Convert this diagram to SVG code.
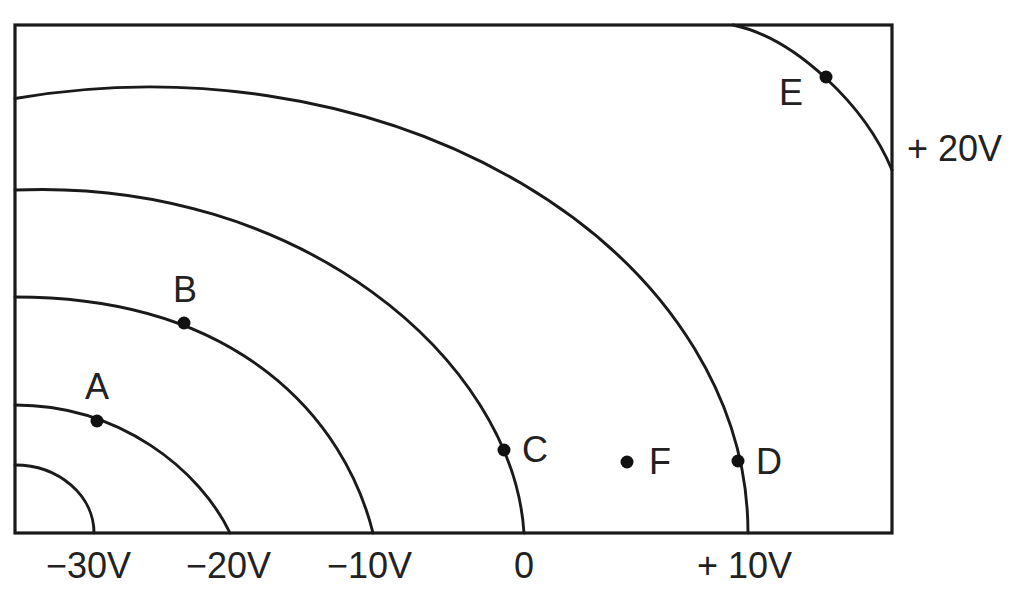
<svg xmlns="http://www.w3.org/2000/svg" width="1018" height="596" viewBox="0 0 1018 596">
  <style>
    .line { fill: none; stroke: #1a1a1a; stroke-width: 2.9; stroke-linecap: round; }
    .frame { fill: none; stroke: #1a1a1a; stroke-width: 3.2; }
    .dot { fill: #111; }
    .lbl { font-family: "Liberation Sans", Arial, sans-serif; font-size: 36px; fill: #222; }
  </style>
  <rect width="1018" height="596" fill="#ffffff"/>
  <g id="frame">
    <rect class="frame" x="15" y="25" width="877" height="508"/>
  </g>
  <g id="equipotentials">
    <path id="v-30" class="line" d="M15,465 A79,68 0 0 1 94,533"/>
    <path id="v-20" class="line" d="M15,405 C120,405 200,470 230,533"/>
    <path id="v-10" class="line" d="M15,297 C240,297 345,420 373,533"/>
    <path id="v0" class="line" d="M15,190 C300,178 513,360 524,533"/>
    <path id="v10" class="line" d="M15,98.5 A598,446 0 0 1 748,533"/>
    <path id="v20" class="line" d="M733,25 C795,38 865,105 892,170"/>
  </g>
  <g id="point-A"><circle class="dot" cx="97" cy="421" r="6.5"/><text class="lbl" x="85" y="399">A</text></g>
  <g id="point-B"><circle class="dot" cx="184" cy="323" r="6.5"/><text class="lbl" x="173" y="302">B</text></g>
  <g id="point-C"><circle class="dot" cx="504" cy="450" r="6.5"/><text class="lbl" x="522" y="462">C</text></g>
  <g id="point-F"><circle class="dot" cx="627" cy="462" r="6.5"/><text class="lbl" x="649" y="474">F</text></g>
  <g id="point-D"><circle class="dot" cx="738" cy="461" r="6.5"/><text class="lbl" x="756" y="474">D</text></g>
  <g id="point-E"><circle class="dot" cx="826" cy="77" r="6.5"/><text class="lbl" x="779" y="105">E</text></g>
  <g id="labels">
    <text class="lbl" x="46" y="578">−30V</text>
    <text class="lbl" x="186" y="578">−20V</text>
    <text class="lbl" x="327" y="578">−10V</text>
    <text class="lbl" x="524" y="578" text-anchor="middle">0</text>
    <text class="lbl" x="697" y="578">+ 10V</text>
    <text class="lbl" x="907" y="161">+ 20V</text>
  </g>
</svg>
